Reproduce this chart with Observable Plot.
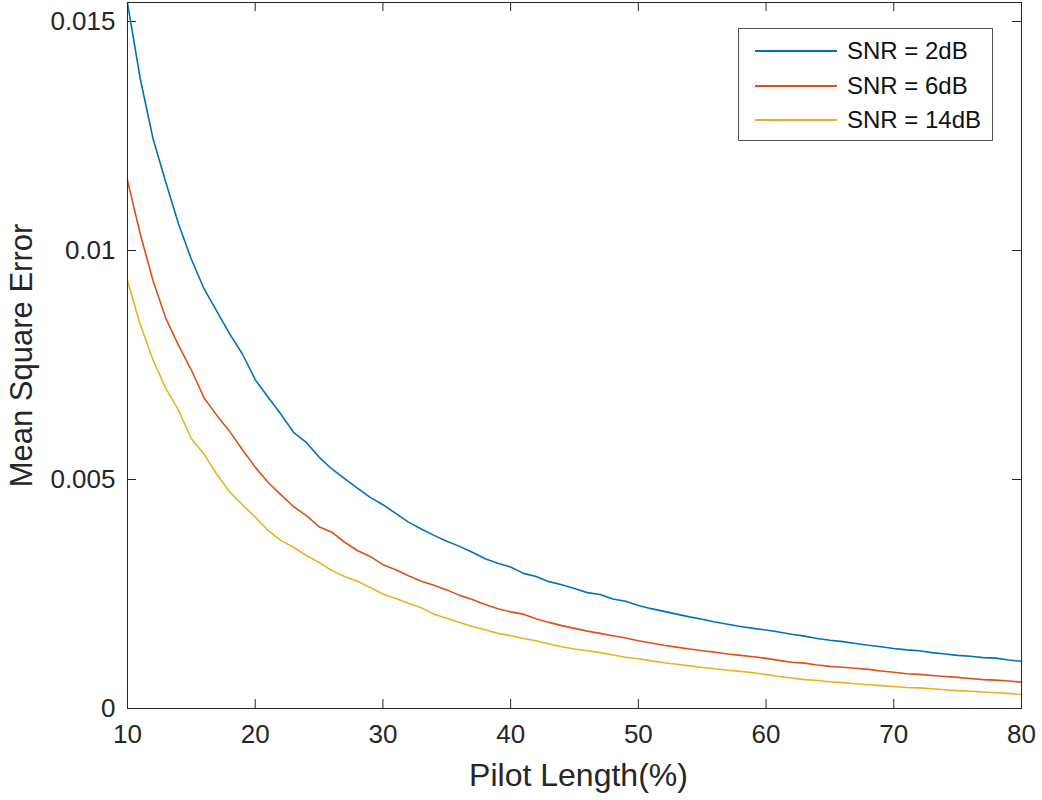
<!DOCTYPE html>
<html>
<head>
<meta charset="utf-8">
<script src="https://cdn.jsdelivr.net/npm/d3@7"></script>
<script src="https://cdn.jsdelivr.net/npm/@observablehq/plot@0.6"></script>
<style>
  html, body { margin: 0; padding: 0; background: #fff; }
  #wrap { position: relative; width: 1042px; height: 800px; font-family: "Liberation Sans", Arial, sans-serif; }
  #legend { position: absolute; left: 738px; top: 28px; width: 255px; height: 113px; border: 1px solid #555; background: #fff; box-sizing: border-box; }
  .row { position: absolute; left: 0; height: 30px; display: flex; align-items: center; }
  .sw { width: 82px; height: 2px; margin-left: 16px; margin-right: 10px; }
  .lbl { font-size: 24px; color: #111; white-space: nowrap; }
</style>
</head>
<body>
<div id="wrap"><div id="chart"></div><div id="legend"></div></div>
<script>
const pilotLength = d3.range(10, 81);

const series = ["SNR = 2dB", "SNR = 6dB", "SNR = 14dB"];
const colors = ["#0072BD", "#D95319", "#EDB120"];

const mse2dB = [
  0.01540, 0.01375, 0.01244, 0.01149, 0.01058, 0.00981, 0.00916, 0.00867, 0.00818, 0.00774,
  0.00718, 0.00680, 0.00643, 0.00603, 0.00581, 0.00549, 0.00523, 0.00502, 0.00481, 0.00461,
  0.00445, 0.00426, 0.00407, 0.00392, 0.00378, 0.00365, 0.00354, 0.00341, 0.00327, 0.00317,
  0.00309, 0.00295, 0.00288, 0.00277, 0.00270, 0.00262, 0.00253, 0.00249, 0.00239, 0.00234,
  0.00225, 0.00218, 0.00212, 0.00206, 0.00200, 0.00195, 0.00189, 0.00184, 0.00179, 0.00175,
  0.001715, 0.00167, 0.00162, 0.00158, 0.00153, 0.00149, 0.00146, 0.00142, 0.00138, 0.00135,
  0.00131, 0.00128, 0.00126, 0.00122, 0.00119, 0.00116, 0.00114, 0.00111, 0.00110, 0.00106,
  0.00103
];
const mse6dB = [
  0.01153, 0.01036, 0.00934, 0.00852, 0.00793, 0.00739, 0.00678, 0.00640, 0.00605, 0.00565,
  0.00527, 0.00494, 0.00467, 0.00441, 0.00421, 0.00397, 0.00385, 0.00363, 0.00345, 0.00332,
  0.00314, 0.00303, 0.00290, 0.00278, 0.00269, 0.00259, 0.00247, 0.00238, 0.00227, 0.00218,
  0.00211, 0.00206, 0.00196, 0.00188, 0.00181, 0.00175, 0.00169, 0.00164, 0.00159, 0.00154,
  0.00148, 0.00143, 0.00138, 0.00134, 0.00130, 0.00126, 0.00123, 0.00119, 0.00116, 0.00113,
  0.001095, 0.00105, 0.00101, 0.00099, 0.00095, 0.00092, 0.00090, 0.00088, 0.000855, 0.00082,
  0.00079, 0.00076, 0.000745, 0.00072, 0.00070, 0.00068, 0.000655, 0.00063, 0.00062, 0.00060,
  0.000575
];
const mse14dB = [
  0.00934, 0.00838, 0.00761, 0.00699, 0.00651, 0.00589, 0.00555, 0.00511, 0.00473, 0.00445,
  0.00418, 0.00389, 0.00367, 0.00352, 0.00334, 0.00319, 0.00301, 0.00288, 0.00278, 0.00264,
  0.00250, 0.00240, 0.00230, 0.00220, 0.00206, 0.00197, 0.00188, 0.00179, 0.00172, 0.00164,
  0.00159, 0.00153, 0.00148, 0.00141, 0.00135, 0.00130, 0.00126, 0.00122, 0.00117, 0.00112,
  0.001085, 0.00104, 0.00100, 0.000967, 0.00093, 0.000895, 0.000867, 0.000836, 0.00081, 0.00078,
  0.00074, 0.00070, 0.000665, 0.00063, 0.00061, 0.000585, 0.000565, 0.00054, 0.00052, 0.00050,
  0.00048, 0.00046, 0.00045, 0.00043, 0.00041, 0.00039, 0.000375, 0.00036, 0.000345, 0.00033,
  0.000305
];

const xTicks = [10, 20, 30, 40, 50, 60, 70, 80];
const yTicks = [0, 0.005, 0.01, 0.015];
const xLabel = "Pilot Length(%)";
const yLabel = "Mean Square Error";

const allSeries = [mse2dB, mse6dB, mse14dB];
const table = [];
allSeries.forEach((vals, i) => vals.forEach((v, j) => table.push({x: pilotLength[j], y: v, s: series[i]})));

const W = 1042, H = 800;
const mL = 127, mR = 21, mT = 2, mB = 92;
const innerW = W - mL - mR, innerH = H - mT - mB;
const axisColor = "#262626";

const chart = Plot.plot({
  width: W,
  height: H,
  marginLeft: mL,
  marginRight: mR,
  marginTop: mT,
  marginBottom: mB,
  style: {fontFamily: '"Liberation Sans", Arial, sans-serif', fontSize: "26px", color: axisColor, background: "#fff"},
  x: {domain: [10, 80]},
  y: {domain: [0, 0.015415]},
  color: {domain: series, range: colors},
  marks: [
    Plot.axisX({ticks: xTicks, tickSize: 0, tickPadding: 16, label: null, tickFormat: d => String(d), fontSize: 26}),
    Plot.axisY({ticks: yTicks, tickSize: 0, tickPadding: 12, label: null, tickFormat: d => String(d), fontSize: 26}),
    Plot.tickX(xTicks, {x: d => d, insetTop: innerH - 9, stroke: axisColor}),
    Plot.tickX(xTicks, {x: d => d, insetBottom: innerH - 9, stroke: axisColor}),
    Plot.tickY(yTicks, {y: d => d, insetRight: innerW - 9, stroke: axisColor}),
    Plot.tickY(yTicks, {y: d => d, insetLeft: innerW - 9, stroke: axisColor}),
    Plot.line(table, {x: "x", y: "y", z: "s", stroke: "s", strokeWidth: 1.6}),
    Plot.frame({stroke: axisColor, strokeWidth: 1}),
    Plot.text([xLabel], {text: d => d, frameAnchor: "bottom", dx: 4, dy: 67, textAnchor: "middle", lineAnchor: "middle", fontSize: 32, fill: axisColor}),
    Plot.text([yLabel], {text: d => d, frameAnchor: "left", dx: -105, rotate: -90, textAnchor: "middle", lineAnchor: "middle", fontSize: 31, fill: axisColor})
  ]
});
document.getElementById("chart").appendChild(chart);

const legend = document.getElementById("legend");
series.forEach((s, i) => {
  const row = document.createElement("div");
  row.className = "row";
  row.style.top = (7 + i * 34.5) + "px";
  const sw = document.createElement("div");
  sw.className = "sw";
  sw.style.background = colors[i];
  const lbl = document.createElement("span");
  lbl.className = "lbl";
  lbl.textContent = s;
  row.appendChild(sw);
  row.appendChild(lbl);
  legend.appendChild(row);
});
</script>
</body>
</html>
